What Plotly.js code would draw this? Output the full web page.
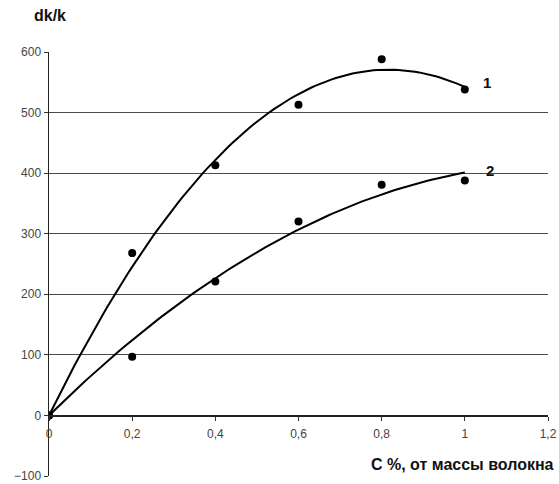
<!DOCTYPE html>
<html><head><meta charset="utf-8">
<script src="https://cdn.plot.ly/plotly-3.0.1.min.js"></script>
<style>html,body{margin:0;padding:0;background:#fff}</style>
</head><body><div id="chart" style="width:559px;height:484px"></div>
<script>
const conc = [0, 0.2, 0.4, 0.6, 0.8, 1.0];
const series1 = [0, 268, 413, 513, 588, 538];
const series2 = [0, 97, 221, 320, 381, 388];
const curveLabels = ['1', '2'];
const xTicks = [0, 0.2, 0.4, 0.6, 0.8, 1, 1.2];
const yTicks = [-100, 0, 100, 200, 300, 400, 500, 600];

// quadratic trendline through origin (least squares), like the spreadsheet trendline
function quadFit(xs, ys) {
  let s2=0,s3=0,s4=0,sxy=0,sx2y=0;
  for (let i=0;i<xs.length;i++){const x=xs[i],y=ys[i];
    s2+=x*x; s3+=x*x*x; s4+=x*x*x*x; sxy+=x*y; sx2y+=x*x*y;}
  const det=s2*s4-s3*s3;
  const b=(sxy*s4-s3*sx2y)/det, a=(s2*sx2y-s3*sxy)/det;
  const cx=[],cy=[];
  for(let k=0;k<=100;k++){const x=k/100*xs[xs.length-1];cx.push(x);cy.push(b*x+a*x*x);}
  return {x:cx,y:cy};
}
const f1=quadFit(conc,series1), f2=quadFit(conc,series2);
const traces=[
  {x:f1.x,y:f1.y,mode:'lines',line:{color:'#000',width:2},hoverinfo:'skip'},
  {x:f2.x,y:f2.y,mode:'lines',line:{color:'#000',width:2},hoverinfo:'skip'},
  {x:conc,y:series1,mode:'markers',marker:{color:'#000',size:8}},
  {x:conc,y:series2,mode:'markers',marker:{color:'#000',size:8}}
];
const yMin=-100, yMax=600;
const H=484, T=52, B=8, plotH=H-T-B;
const py = px => (H-B-px)/plotH;
const layout={
  width:559,height:484,showlegend:false,
  paper_bgcolor:'#fff',plot_bgcolor:'#fff',
  separators:', ',
  margin:{l:49,r:11,t:T,b:B},
  font:{family:'Liberation Sans, Arial, sans-serif',color:'#333',size:12},
  xaxis:{range:[0,1.2],tickvals:xTicks,ticks:'outside',ticklen:4,tickcolor:'#333',
    showgrid:false,zeroline:false,showline:true,linecolor:'#222',linewidth:1.5,
    anchor:'free',position:(0-yMin)/(yMax-yMin),ticklabelstandoff:3,tickfont:{size:12,color:'#444'}},
  yaxis:{range:[yMin,yMax],tickvals:yTicks,ticks:'outside',ticklen:4,tickcolor:'#333',
    ticklabeloverflow:'allow',
    showgrid:true,gridcolor:'#4a4a4a',gridwidth:1,zeroline:false,showline:true,
    linecolor:'#222',linewidth:1.5,tickfont:{size:12,color:'#444'}},
  annotations:[
    {xref:'x',yref:'y',x:1.04,y:550,text:'<b>'+curveLabels[0]+'</b>',showarrow:false,xanchor:'left',font:{size:15,color:'#111'}},
    {xref:'x',yref:'y',x:1.045,y:405,text:'<b>'+curveLabels[1]+'</b>',showarrow:false,xanchor:'left',font:{size:15,color:'#111'}},
    {xref:'paper',yref:'paper',x:-0.034,y:py(16),text:'<b>dk/k</b>',showarrow:false,xanchor:'left',yanchor:'middle',font:{size:16,color:'#111'}},
    {xref:'paper',yref:'paper',x:1.016,y:py(464),text:'<b>С %, от массы волокна</b>',showarrow:false,xanchor:'right',yanchor:'middle',font:{size:16,color:'#111'}}
  ]
};
Plotly.newPlot('chart',traces,layout,{displayModeBar:false,staticPlot:true});
</script></body></html>
